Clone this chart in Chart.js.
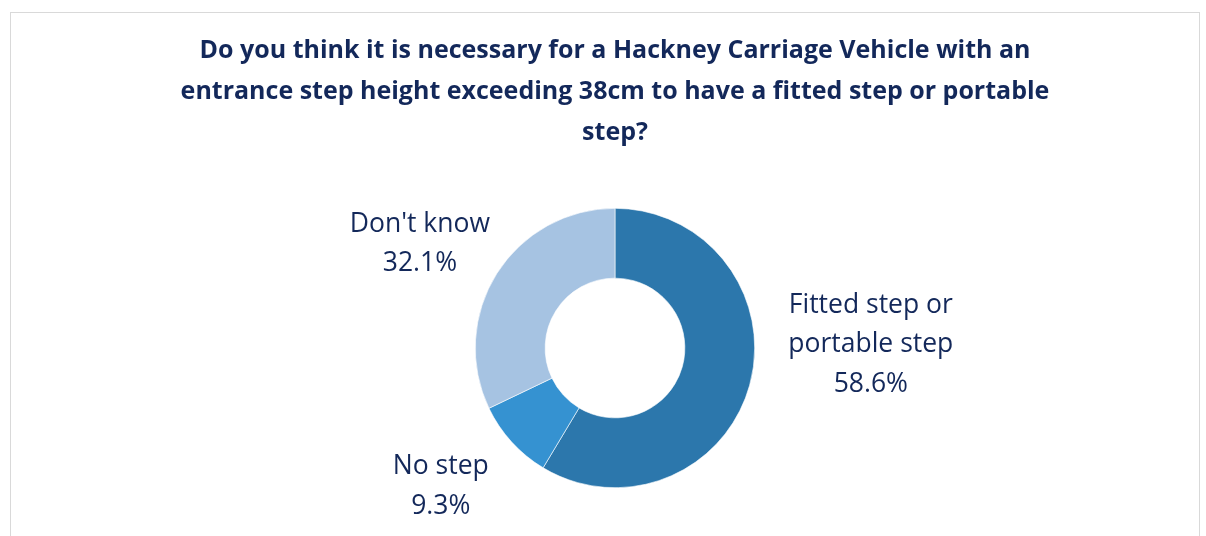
<!DOCTYPE html>
<html><head><meta charset="utf-8">
<script src="https://cdn.jsdelivr.net/npm/chart.js@4.4.0/dist/chart.umd.min.js"></script>
<style>
html,body{margin:0;padding:0;background:#fff;overflow:hidden;}
#frame{position:absolute;left:10px;top:12px;width:1190px;height:600px;border:1.5px solid #d9d9d9;box-sizing:border-box;}
#wrap{position:absolute;left:0;top:0;width:1206px;height:536px;}
</style></head>
<body>
<div id="frame"></div>
<div id="wrap"><canvas id="c" width="1206" height="536"></canvas></div>
<script>
const titleLines = ["Do you think it is necessary for a Hackney Carriage Vehicle with an", "entrance step height exceeding 38cm to have a fitted step or portable", "step?"];
const categories = ["Fitted step or portable step", "No step", "Don't know"];
const labelLines = [["Fitted step or", "portable step"], ["No step"], ["Don't know"]];
const values = [58.6, 9.3, 32.1];
const colors = ["#2C77AC", "#3592D1", "#A6C3E2"];

const labelPlacement = [
  {dist: 1.9, dx: 0, dy: -74},
  {dist: 1.57, dx: -12, dy: -9},
  {dist: 1.6, dx: -6, dy: 15}
];

const outLabels = {
  id: 'outLabels',
  afterDatasetsDraw(chart) {
    const ctx = chart.ctx;
    const meta = chart.getDatasetMeta(0);
    ctx.save();
    ctx.font = '26.5px "Open Sans", sans-serif';
    ctx.fillStyle = '#13285A';
    ctx.textAlign = 'center';
    ctx.textBaseline = 'middle';
    const lh = 39.5;
    meta.data.forEach((arc, i) => {
      const p = arc.getProps(['x','y','startAngle','endAngle','outerRadius'], true);
      const mid = (p.startAngle + p.endAngle) / 2;
      const pl = labelPlacement[i];
      const cx = p.x + Math.cos(mid) * p.outerRadius * pl.dist + pl.dx;
      const cy = p.y + Math.sin(mid) * p.outerRadius * pl.dist + pl.dy;
      const lines = labelLines[i].concat([values[i].toFixed(1) + '%']);
      const top = cy - (lines.length - 1) * lh / 2;
      lines.forEach((t, k) => ctx.fillText(t, cx, top + k * lh));
    });
    ctx.restore();
  }
};

new Chart(document.getElementById('c'), {
  type: 'doughnut',
  data: {
    labels: categories,
    datasets: [{
      data: values,
      backgroundColor: colors,
      borderColor: '#ffffff',
      borderWidth: 0.6,
      hoverOffset: 0
    }]
  },
  options: {
    responsive: false,
    animation: false,
    cutout: '50%',
    layout: {padding: {left: 24, right: 0, top: 0, bottom: 48}},
    plugins: {
      legend: {display: false},
      tooltip: {enabled: false},
      title: {
        display: true,
        text: titleLines,
        color: '#13285A',
        font: {family: '"Open Sans", sans-serif', size: 25, weight: 'bold', lineHeight: 1.64},
        padding: {top: 30, bottom: 55}
      }
    }
  },
  plugins: [outLabels]
});
</script>
</body></html>
